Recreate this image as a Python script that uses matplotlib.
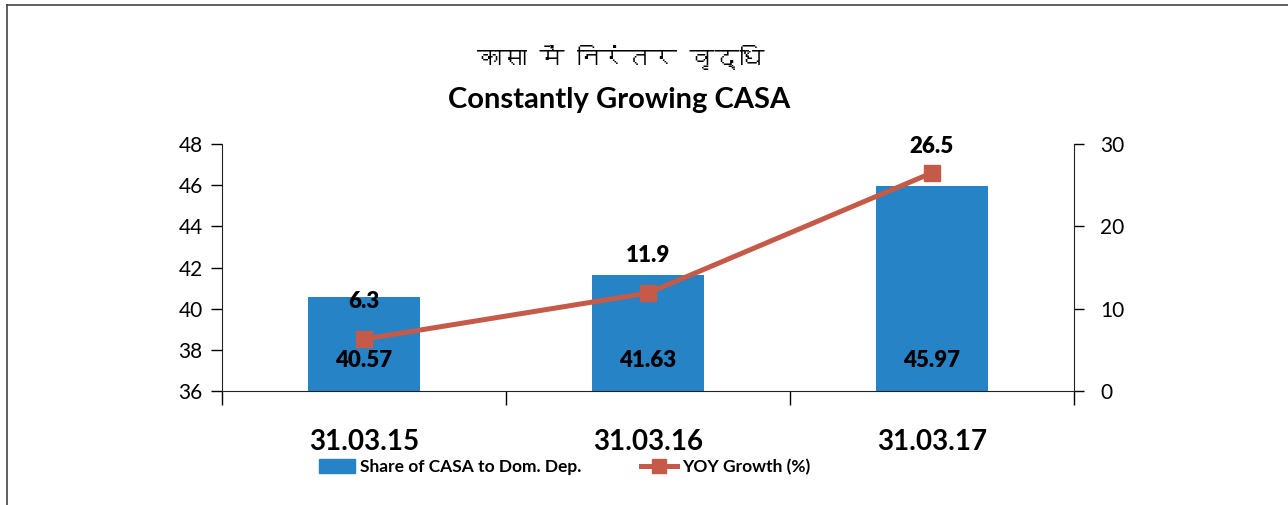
import matplotlib
matplotlib.use("Agg")
import matplotlib.pyplot as plt
from matplotlib import font_manager
from matplotlib.ft2font import FT2Font
from matplotlib.lines import Line2D
import numpy as np

# chart data
categories = ["31.03.15", "31.03.16", "31.03.17"]
casa_share = [40.57, 41.63, 45.97]
yoy_growth = [6.3, 11.9, 26.5]
title_hi = "कासा में निरंतर वृद्धि"
title_en = "Constantly Growing CASA"
bar_name = "Share of CASA to Dom. Dep."
line_name = "YOY Growth (%)"

bar_color = "#2683C6"
line_color = "#C55A48"


def find_devanagari_family():
    # look for any installed font that carries Devanagari glyphs
    for f in font_manager.fontManager.ttflist:
        try:
            if 0x0915 in FT2Font(f.fname).get_charmap():
                return f.name
        except Exception:
            pass
    return None


base_font = "Lato"
hi_family = find_devanagari_family()
hi_fonts = [hi_family, base_font] if hi_family else [base_font, "DejaVu Sans"]

plt.rcParams['font.family'] = [base_font, "DejaVu Sans"]

fig = plt.figure(figsize=(12.88, 5.05), dpi=100)
ax = fig.add_axes([222/1288, 1-391/505, (1074-222)/1288, (391-144)/505])
ax2 = ax.twinx()

x = np.arange(len(categories))
ax.bar(x, casa_share, width=0.395, color=bar_color, zorder=2)
ax.set_ylim(36, 48)
ax.set_yticks(np.arange(36, 49, 2))
ax.set_xlim(-0.5, len(categories)-0.5)

# category boundary ticks and centered labels
ax.set_xticks(np.arange(-0.5, len(categories), 1.0))
ax.set_xticklabels([])
ax.set_xticks(x, minor=True)
ax.set_xticklabels(categories, minor=True, fontsize=20, fontweight='bold')
ax.tick_params(axis='x', which='major', length=10, width=1, direction='out')
ax.tick_params(axis='x', which='minor', length=0, pad=27)
ax.tick_params(axis='y', labelsize=15, length=8, width=1, direction='out', pad=6)

for s in ['top', 'right']:
    ax.spines[s].set_visible(False)
ax.spines['left'].set_color('#222222')
ax.spines['bottom'].set_color('#222222')

for xi, v in zip(x, casa_share):
    ax.annotate(f"{v:.2f}", (xi, 36), xytext=(0, 22), textcoords='offset points',
                ha='center', va='center', fontsize=16, fontweight='heavy', zorder=5)

ax2.plot(x, yoy_growth, color=line_color, lw=3.6, marker='s', markersize=12,
         zorder=4)
ax2.set_ylim(0, 30)
ax2.set_yticks([0, 10, 20, 30])
ax2.tick_params(axis='y', labelsize=15, length=7, width=1, direction='out', pad=12)
for s in ['top', 'left', 'bottom']:
    ax2.spines[s].set_visible(False)
ax2.spines['right'].set_color('#222222')

label_offsets = [27, 27, 19]
for xi, v, off in zip(x, yoy_growth, label_offsets):
    ax2.annotate(f"{v}", (xi, v), xytext=(0, off), textcoords='offset points',
                 ha='center', va='center', fontsize=16, fontweight='heavy')

fig.text(621/1288, 1-58/505, title_hi, ha='center', va='center', fontsize=18,
         fontweight='bold', family=hi_fonts)
fig.text(619/1288, 1-100/505, title_en, ha='center', va='center', fontsize=21,
         fontweight='bold')

handles = [plt.Rectangle((0, 0), 1, 1, color=bar_color),
           Line2D([], [], color=line_color, lw=3.6, marker='s', markersize=10)]
fig.legend(handles, [bar_name, line_name], loc='center left', ncol=2,
           bbox_to_anchor=(303/1288, 1-467/505), frameon=False,
           prop={'size': 12.5, 'weight': 'bold'}, handlelength=2.1,
           handletextpad=0.3, columnspacing=3.4, handleheight=0.8)

# frame of the original picture (left and top edges only visible)
fig.add_artist(Line2D([7/1288, 7/1288], [0, 1-5/505], color='#444444', lw=1.2))
fig.add_artist(Line2D([7/1288, 1], [1-5/505, 1-5/505], color='#444444', lw=1.2))

fig.savefig("out.png", dpi=100)
